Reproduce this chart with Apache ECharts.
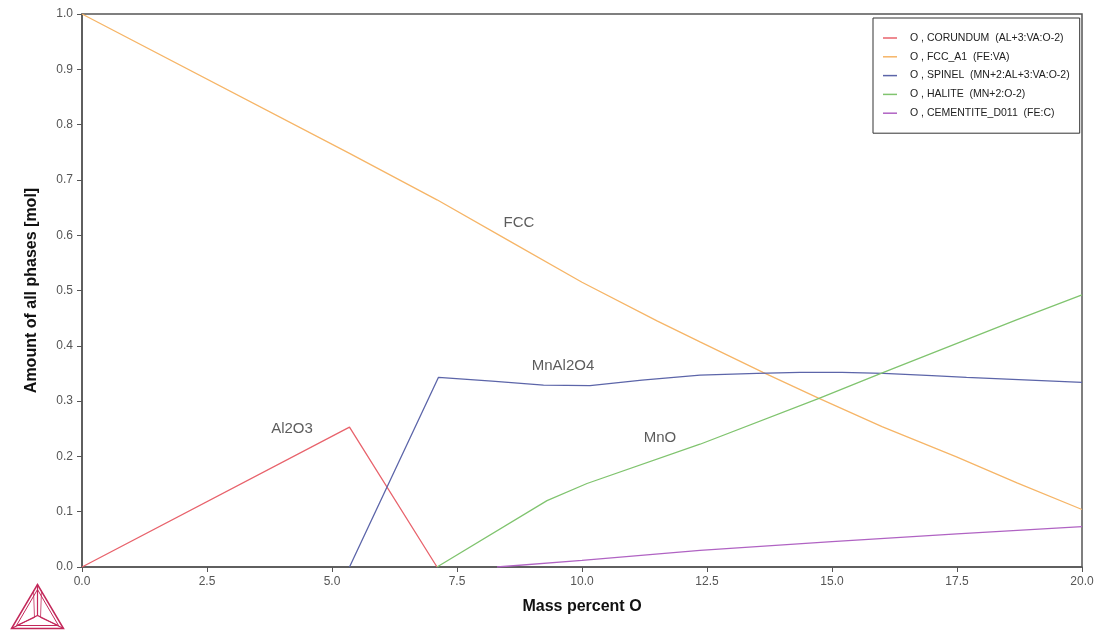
<!DOCTYPE html>
<html><head><meta charset="utf-8">
<script src="https://cdn.jsdelivr.net/npm/echarts@6/dist/echarts.min.js"></script>
<style>html,body{margin:0;padding:0;background:#fff}#c{width:1105px;height:630px}</style>
</head><body><div id="c"></div>
<script>
var seriesNames = ['O , CORUNDUM  (AL+3:VA:O-2)', 'O , FCC_A1  (FE:VA)', 'O , SPINEL  (MN+2:AL+3:VA:O-2)', 'O , HALITE  (MN+2:O-2)', 'O , CEMENTITE_D011  (FE:C)'];
var corundumX = [0, 5.35, 7.1];
var corundumY = [0, 0.253, 0];
var fccX = [0, 5.35, 7.1, 8.5, 10, 11.5, 12.36, 13.62, 14.74, 16, 17.49, 18.7, 20];
var fccY = [1.0, 0.748, 0.664, 0.592, 0.515, 0.445, 0.407, 0.352, 0.305, 0.254, 0.199, 0.152, 0.104];
var spinelX = [5.35, 7.13, 8.2, 9.23, 10.16, 11.2, 12.36, 13.5, 14.36, 15.2, 16.03, 17.0, 17.69, 20];
var spinelY = [0, 0.343, 0.336, 0.329, 0.328, 0.338, 0.347, 0.350, 0.352, 0.352, 0.350, 0.346, 0.343, 0.334];
var haliteX = [7.1, 9.3, 10.1, 12.36, 14.74, 16.03, 18.69, 20];
var haliteY = [0, 0.12, 0.151, 0.222, 0.305, 0.352, 0.447, 0.492];
var cementiteX = [8.3, 10, 12.36, 15, 17.5, 20];
var cementiteY = [0, 0.012, 0.03, 0.046, 0.06, 0.073];
var labelTexts = ['Al2O3', 'FCC', 'MnAl2O4', 'MnO'];
var labelX = [4.2, 8.74, 9.62, 11.56];
var labelY = [0.250, 0.622, 0.363, 0.233];
var colors = ['#e8636c', '#f6b567', '#5c65a9', '#80c46f', '#b063c3'];

function pairs(xs, ys) { return xs.map(function (x, i) { return [x, ys[i]]; }); }
var allX = [corundumX, fccX, spinelX, haliteX, cementiteX];
var allY = [corundumY, fccY, spinelY, haliteY, cementiteY];

var series = seriesNames.map(function (n, i) {
  return {
    name: n, type: 'line', data: pairs(allX[i], allY[i]),
    showSymbol: false, symbol: 'none', smooth: false,
    lineStyle: { color: colors[i], width: 1.3 },
    itemStyle: { color: colors[i] },
    animation: false, z: 3
  };
});
series.push({
  name: 'labels', type: 'scatter', symbolSize: 0,
  data: labelTexts.map(function (t, i) { return { value: [labelX[i], labelY[i]], name: t }; }),
  label: { show: true, position: 'inside', formatter: '{b}', color: '#333', fontSize: 15, fontFamily: 'Liberation Sans, Arial, sans-serif' },
  silent: true, animation: false, z: 4
});

var chart = echarts.init(document.getElementById('c'), null, { renderer: 'canvas' });
chart.setOption({
  backgroundColor: '#fff',
  animation: false,
  textStyle: { fontFamily: 'Liberation Sans, Arial, sans-serif' },
  grid: { left: 82, right: 23, top: 14, bottom: 63, show: true, borderColor: '#555', borderWidth: 1.5, backgroundColor: 'transparent' },
  legend: {
    data: seriesNames, orient: 'vertical', left: 873, top: 18,
    padding: [14, 10, 14, 10], itemGap: 6.8, itemWidth: 14, itemHeight: 1.5, icon: 'rect',
    borderColor: '#333', borderWidth: 1, backgroundColor: '#fff',
    textStyle: { fontSize: 10.5, color: '#222', lineHeight: 12, padding: [0, 0, 0, 8], fontFamily: 'Liberation Sans, Arial, sans-serif' }
  },
  xAxis: {
    type: 'value', min: 0, max: 20, interval: 2.5,
    name: 'Mass percent O', nameLocation: 'middle', nameGap: 32,
    nameTextStyle: { fontSize: 16, fontWeight: 'bold', color: '#111' },
    axisLine: { show: true, lineStyle: { color: '#555', width: 1.5 } },
    axisTick: { show: true, length: 5, lineStyle: { color: '#555' } },
    axisLabel: { color: '#555', fontSize: 12, margin: 9, formatter: function (v) { return v.toFixed(1); } },
    splitLine: { show: false }
  },
  yAxis: {
    type: 'value', min: 0, max: 1, interval: 0.1,
    name: 'Amount of all phases [mol]', nameLocation: 'middle', nameGap: 42,
    nameTextStyle: { fontSize: 16, fontWeight: 'bold', color: '#111' },
    axisLine: { show: true, lineStyle: { color: '#555', width: 1.5 } },
    axisTick: { show: true, length: 5, lineStyle: { color: '#555' } },
    axisLabel: { color: '#555', fontSize: 12, margin: 9, formatter: function (v) { return v.toFixed(1); } },
    splitLine: { show: false }
  },
  graphic: [{
    type: 'group', left: 9, top: 582, silent: true,
    children: [
      { type: 'polygon', shape: { points: [[0, 44], [52, 44], [26, 0]] }, style: { fill: 'none', stroke: '#c3285a', lineWidth: 1.5 } },
      { type: 'polygon', shape: { points: [[5, 41], [47, 41], [26, 5]] }, style: { fill: 'none', stroke: '#c3285a', lineWidth: 1 } },
      { type: 'polyline', shape: { points: [[0, 44], [26, 31], [52, 44]] }, style: { fill: 'none', stroke: '#c3285a', lineWidth: 1.2 } },
      { type: 'line', shape: { x1: 26, y1: 0, x2: 26, y2: 31 }, style: { stroke: '#c3285a', lineWidth: 1.2 } },
      { type: 'polyline', shape: { points: [[22, 6], [23, 33], [5, 41]] }, style: { fill: 'none', stroke: '#c3285a', lineWidth: 0.8 } },
      { type: 'polyline', shape: { points: [[30, 6], [29, 33], [47, 41]] }, style: { fill: 'none', stroke: '#c3285a', lineWidth: 0.8 } }
    ]
  }],
  series: series
});
</script></body></html>
